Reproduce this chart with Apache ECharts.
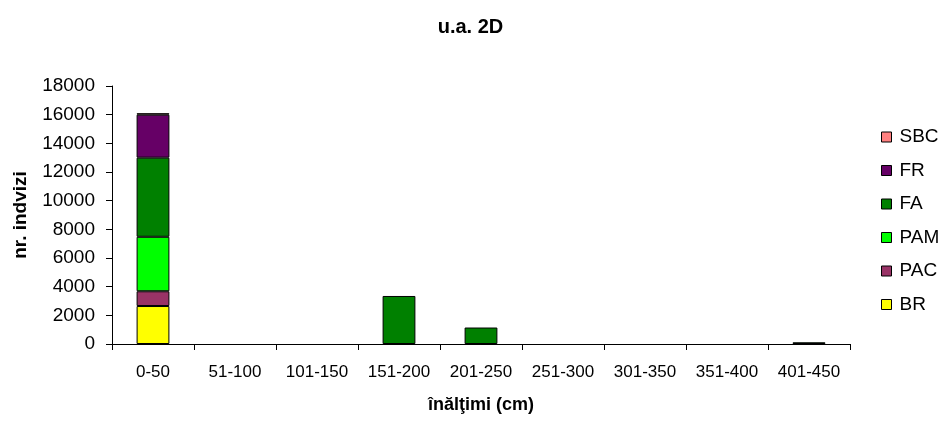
<!DOCTYPE html>
<html><head><meta charset="utf-8">
<script src="https://cdn.jsdelivr.net/npm/echarts@6/dist/echarts.min.js"></script>
<style>html,body{margin:0;padding:0;background:#fff}#c{width:941px;height:422px}</style>
</head><body><div id="c"></div>
<script>
const categories = ['0-50','51-100','101-150','151-200','201-250','251-300','301-350','351-400','401-450'];
const BR  = [2650,0,0,0,0,0,0,0,0];
const PAC = [1030,0,0,0,0,0,0,0,0];
const PAM = [3800,0,0,0,0,0,0,0,0];
const FA  = [5520,0,0,3350,1150,0,0,0,120];
const FR  = [3000,0,0,0,0,0,0,0,0];
const SBC = [100,0,0,0,0,0,0,0,0];
const yTicks = [0,2000,4000,6000,8000,10000,12000,14000,16000,18000];

const seriesDefs = [
  {name:'BR', data:BR, color:'#FFFF00'},
  {name:'PAC', data:PAC, color:'#993366'},
  {name:'PAM', data:PAM, color:'#00FF00'},
  {name:'FA', data:FA, color:'#008000'},
  {name:'FR', data:FR, color:'#660066'},
  {name:'SBC', data:SBC, color:'#FF8080'}
];
const font = 'Liberation Sans, Arial, sans-serif';
const chart = echarts.init(document.getElementById('c'), null, {renderer:'canvas'});
chart.setOption({
  animation:false,
  backgroundColor:'#fff',
  textStyle:{fontFamily:font},
  title:{text:'u.a. 2D', left:'center', top:12,
    textStyle:{fontFamily:font, fontSize:20, fontWeight:'bold', color:'#000'}},
  legend:{
    orient:'vertical', left:876, top:122, itemGap:13.5, itemWidth:10, itemHeight:10,
    icon:'rect',
    data:['SBC','FR','FA','PAM','PAC','BR'],
    textStyle:{fontFamily:font, fontSize:19, lineHeight:20, color:'#000', padding:[0,0,0,3]},
    itemStyle:{borderColor:'#000', borderWidth:1}
  },
  grid:{left:112, right:91, top:86, bottom:78, containLabel:false},
  xAxis:{
    type:'category', data:categories,
    name:'înălţimi (cm)', nameLocation:'middle', nameGap:52,
    nameTextStyle:{fontFamily:font, fontSize:18, fontWeight:'bold', color:'#000'},
    axisLine:{lineStyle:{color:'#000', width:1}},
    axisTick:{show:true, alignWithLabel:false, length:6, inside:false, lineStyle:{color:'#000'}},
    axisLabel:{fontFamily:font, fontSize:17, color:'#000', margin:20, interval:0, hideOverlap:false}
  },
  yAxis:{
    type:'value', min:0, max:18000, interval:2000,
    name:'nr. indvizi', nameLocation:'middle', nameGap:82, nameRotate:90,
    nameTextStyle:{fontFamily:font, fontSize:19, fontWeight:'bold', color:'#000'},
    axisLine:{show:true, lineStyle:{color:'#000', width:1}},
    axisTick:{show:true, length:6, lineStyle:{color:'#000'}},
    axisLabel:{fontFamily:font, fontSize:19, color:'#000', margin:17,
      formatter:(v)=> yTicks.includes(v) ? String(v) : ''},
    splitLine:{show:false}
  },
  series: seriesDefs.map(s=>({
    name:s.name, type:'bar', stack:'total',
    data:s.data.map(v => v === 0 ? '-' : v),
    barWidth:'40%',
    itemStyle:{color:s.color, borderColor:'#000', borderWidth:1}
  }))
});
</script></body></html>
